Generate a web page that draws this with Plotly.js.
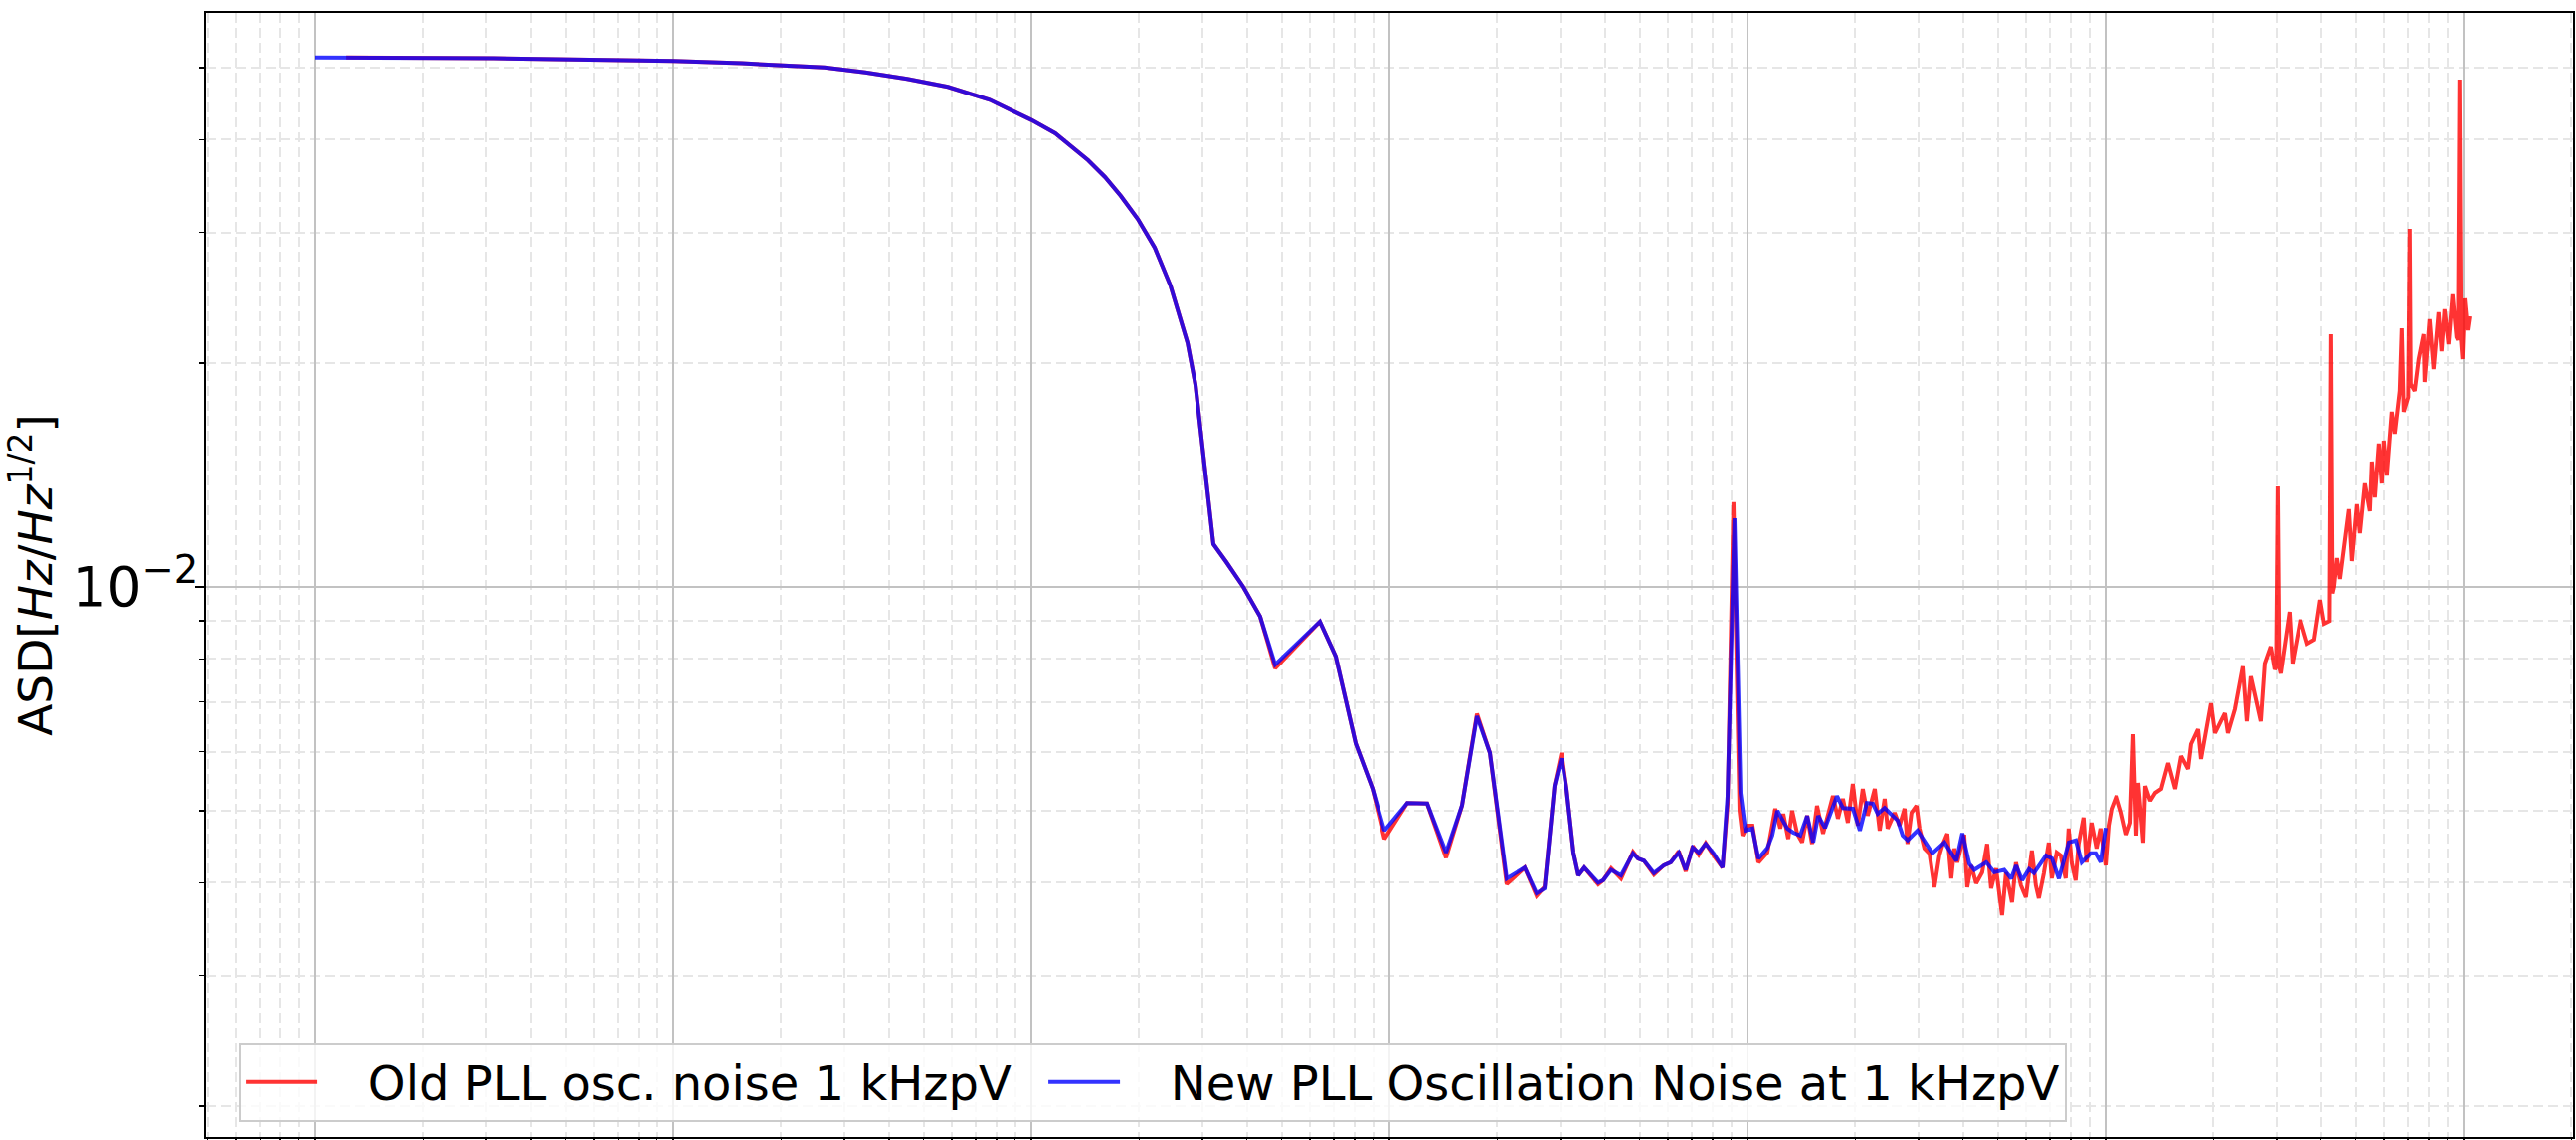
<!DOCTYPE html>
<html>
<head>
<meta charset="utf-8">
<script src="https://cdn.plot.ly/plotly-3.0.1.min.js"></script>
<style>
  html, body { margin: 0; padding: 0; background: #ffffff; }
  #chart { width: 2590px; height: 1146px; }
</style>
</head>
<body>
<div id="chart"></div>
<script>
// ---- Data (frequency in Hz, ASD in Hz/Hz^1/2) ----
const seriesNames = ["Old PLL osc. noise 1 kHzpV", "New PLL Oscillation Noise at 1 kHzpV"];

const newFreq = [0.01, 0.03162, 0.1, 0.1555, 0.2644, 0.3437, 0.4496, 0.5843, 0.7643, 1.0, 1.166, 1.300, 1.440, 1.606, 1.778, 1.982, 2.211, 2.448, 2.730, 2.873, 3.024, 3.122, 3.223, 3.503, 3.905, 4.353, 4.792, 6.391, 7.079, 8.046, 8.970, 9.685, 11.22, 12.75, 14.40, 15.95, 17.56, 19.08, 20.60, 21.27, 23.87, 25.77, 27.13, 28.91, 30.24, 31.22, 32.66, 33.71, 35.03, 36.64, 38.31, 39.56, 41.64, 44.38, 47.92, 49.49, 51.42, 54.82, 58.44, 61.10, 64.30, 67.25, 70.34, 73.10, 76.43, 80.44, 85.21, 87.99, 92.0, 95.63, 98.72, 103.2, 107.3, 113.6, 117.3, 121.2, 129.2, 134.2, 140.4, 146.8, 152.6, 157.5, 164.7, 177.8, 184.8, 197.0, 206.0, 215.4, 223.9, 231.1, 241.6, 262.7, 271.3, 280.1, 298.5, 328.6, 354.8, 383.1, 398.1, 416.3, 429.8, 464.2, 488.6, 521.0, 544.8, 562.3, 584.4, 611.1, 631.0, 681.3, 707.9, 740.3, 789.3, 825.5, 857.7, 908.4, 938.0, 968.5, 1000];
const newASD = [0.0516, 0.05145, 0.05102, 0.05066, 0.05001, 0.04925, 0.04827, 0.04709, 0.04524, 0.0425, 0.04078, 0.03912, 0.03752, 0.03561, 0.03358, 0.03128, 0.02861, 0.0254, 0.0213, 0.0187, 0.01493, 0.01284, 0.01142, 0.01080, 0.01000, 0.00912, 0.00786, 0.00898, 0.00806, 0.00616, 0.00535, 0.00470, 0.00512, 0.00511, 0.00439, 0.00508, 0.00670, 0.00598, 0.00449, 0.00405, 0.00419, 0.00387, 0.00393, 0.00540, 0.00588, 0.00535, 0.00439, 0.00409, 0.00419, 0.00409, 0.00400, 0.00403, 0.00416, 0.00409, 0.00438, 0.00431, 0.00428, 0.00412, 0.00422, 0.00426, 0.00439, 0.00416, 0.00446, 0.00439, 0.00451, 0.00438, 0.00419, 0.00523, 0.01237, 0.00528, 0.00470, 0.00473, 0.00431, 0.00445, 0.00463, 0.00500, 0.00473, 0.00467, 0.00463, 0.00492, 0.00453, 0.00492, 0.00474, 0.00523, 0.00504, 0.00503, 0.00470, 0.00512, 0.00511, 0.00495, 0.00504, 0.00485, 0.00463, 0.00456, 0.00470, 0.00438, 0.00453, 0.00428, 0.00466, 0.00424, 0.00416, 0.00426, 0.00413, 0.00416, 0.00405, 0.00422, 0.00403, 0.00417, 0.00412, 0.00435, 0.00431, 0.00405, 0.00453, 0.00456, 0.00426, 0.00438, 0.00438, 0.00426, 0.00474];

const oldFreq = [0.0122, 0.03162, 0.1, 0.1555, 0.2644, 0.3437, 0.4496, 0.5843, 0.7643, 1.0, 1.166, 1.300, 1.440, 1.606, 1.778, 1.982, 2.211, 2.448, 2.730, 2.873, 3.024, 3.122, 3.223, 3.503, 3.905, 4.353, 4.792, 6.391, 7.079, 8.046, 8.970, 9.685, 11.22, 12.75, 14.40, 15.95, 17.56, 19.08, 20.60, 21.27, 23.87, 25.77, 27.13, 28.91, 30.24, 31.22, 32.66, 33.71, 35.03, 36.64, 38.31, 39.56, 41.64, 44.38, 47.92, 49.49, 51.42, 54.82, 58.44, 61.10, 64.30, 67.25, 70.34, 73.10, 76.43, 80.44, 85.21, 87.99, 91.4, 95.0,
  96.85, 100.0, 103.25, 107.3, 113.6, 119.6, 123.5, 125.9, 130.0, 133.3, 137.7, 142.1, 146.8, 151.5, 156.4, 162.6, 170.0, 173.3, 178.9, 184.7, 190.7, 196.9, 203.3, 209.9, 216.7, 226.7, 234.0, 241.6, 246.3, 257.6, 265.9, 274.6, 279.9, 287.1, 296.5, 302.2, 312.0, 322.2, 332.6, 343.4, 350.1, 361.5, 370.8, 378.0, 385.3, 395.3, 403.0, 410.8, 421.4, 435.1, 452.1, 466.8, 478.9, 494.4, 504.0, 513.8, 527.1, 537.3, 547.7, 561.8, 580.1, 598.9, 618.4, 622.4, 638.5, 650.8, 672.0, 693.8, 707.2, 730.2, 749.1, 773.5, 788.4, 803.7, 824.5, 840.5, 867.8, 884.6, 913.3, 943.0, 967.4, 1000, 1019.4, 1039.1, 1072.8, 1107.7, 1143.7, 1173.3, 1196.0, 1219.2, 1234.9, 1275.0, 1291.4, 1333.4, 1376.6, 1430.5, 1495.9, 1564.4, 1625.6, 1700.0, 1733.0, 1812.2, 1847.4, 1969.2, 2020.2, 2153.6, 2195.3, 2295.8, 2416.3, 2478.8, 2543.0, 2711.0, 2781.1, 2889.9, 2964.7, 2993.0, 3022.1, 3051.0, 3080.7, 3263.1, 3326.3, 3500.8, 3661.1, 3828.6, 3978.4, 4081.3, 4228.0, 4268.2, 4309.0, 4350.7, 4435.0, 4520.9, 4788.6, 4881.4, 5039.9, 5137.5, 5304.3, 5476.7, 5547.2, 5654.5, 5801.0, 5913.4, 5989.3, 6105.3, 6303.7, 6425.7, 6634.4, 6719.9, 6806.2, 7005.0, 7072.5, 7117.9, 7302.1, 7491.3, 7734.5, 7784.2, 8037.0, 8245.1, 8513.1, 8678.0, 8845.8, 9075.1, 9309.9, 9551.2, 9643.0, 9736.2, 9830.0, 9924.5, 10064, 10259, 10391];
const oldASD = [0.0516, 0.05145, 0.05102, 0.05066, 0.05001, 0.04925, 0.04827, 0.04709, 0.04524, 0.0425, 0.04078, 0.03912, 0.03752, 0.03561, 0.03358, 0.03128, 0.02861, 0.0254, 0.0213, 0.0187, 0.01493, 0.01284, 0.01142, 0.01080, 0.01000, 0.00912, 0.00777, 0.00898, 0.00806, 0.00616, 0.00535, 0.00458, 0.00512, 0.00511, 0.00432, 0.00508, 0.00675, 0.00598, 0.00449, 0.00398, 0.00419, 0.00384, 0.00395, 0.00540, 0.00598, 0.00535, 0.00439, 0.00409, 0.00419, 0.00409, 0.00398, 0.00403, 0.00418, 0.00405, 0.00440, 0.00431, 0.00428, 0.00410, 0.00422, 0.00426, 0.00441, 0.00414, 0.00448, 0.00436, 0.00452, 0.00435, 0.00419, 0.00510, 0.01300, 0.00500,
  0.004627, 0.004772, 0.004772, 0.004257, 0.00439, 0.00503, 0.00473, 0.00495, 0.00458, 0.00500, 0.004655, 0.00453, 0.004922, 0.00451, 0.005076, 0.004655, 0.00503, 0.005235, 0.004877, 0.005187, 0.004816, 0.005431, 0.004772, 0.005348, 0.004922, 0.005348, 0.004699, 0.005187, 0.00473, 0.004967, 0.004772, 0.00503, 0.00451, 0.004967, 0.005076, 0.00473, 0.004446, 0.004377, 0.003942, 0.004351, 0.004487, 0.004655, 0.004053, 0.004446, 0.004257, 0.004446, 0.00464, 0.003942, 0.004219, 0.00399, 0.004128, 0.00451, 0.003929, 0.00418, 0.003846, 0.003616, 0.004128, 0.003929, 0.003763, 0.004257, 0.003966, 0.003822, 0.004311, 0.004418, 0.003966, 0.003811, 0.004115, 0.004527, 0.004053, 0.00439, 0.004351, 0.004053, 0.00473, 0.004257, 0.004028, 0.00451, 0.004892, 0.004257, 0.004816, 0.004446, 0.00473, 0.004219, 0.004772, 0.00503, 0.005235, 0.004967, 0.00464, 0.004816, 0.006337, 0.004627, 0.005449, 0.004527, 0.005398, 0.005154, 0.005283, 0.005348, 0.005795, 0.005348, 0.005921, 0.005689, 0.006145, 0.006435, 0.005867, 0.006972, 0.006357, 0.006761, 0.006357, 0.006845, 0.007815, 0.006596, 0.007577, 0.006596, 0.007887, 0.008312, 0.007743, 0.0078, 0.013653, 0.0078, 0.007648, 0.009258, 0.007887, 0.009033, 0.008389, 0.008493, 0.009607, 0.008922, 0.0090, 0.021878, 0.0098, 0.0100, 0.010935, 0.01025, 0.012718, 0.010834, 0.012915, 0.011811, 0.013779, 0.01264, 0.014746, 0.013197, 0.015587, 0.013779, 0.015732, 0.014123, 0.017202, 0.016075, 0.018353, 0.022287, 0.017202, 0.0180, 0.030333, 0.018753, 0.018353, 0.020256, 0.021878, 0.018869, 0.022914, 0.019642, 0.023414, 0.020762, 0.023632, 0.021215, 0.024749, 0.021677, 0.0215, 0.048165, 0.0215, 0.020256, 0.024447, 0.022151, 0.023127];

const FONT = "DejaVu Sans, Liberation Sans, sans-serif";
const LEGEND_PAD = "\u00a0\u00a0\u00a0"; // gap between legend line and its text, as in the reference

const traces = [
  { x: oldFreq, y: oldASD, name: LEGEND_PAD + seriesNames[0], type: "scatter", mode: "lines",
    legendwidth: 720,
    line: { color: "rgba(255,0,0,0.8)", width: 4 } },
  { x: newFreq, y: newASD, name: LEGEND_PAD + seriesNames[1], type: "scatter", mode: "lines",
    line: { color: "rgba(0,0,255,0.8)", width: 4 } }
];

const layout = {
  width: 2590, height: 1146,
  margin: { l: 207, r: 3, t: 13, b: 3, pad: 0 },
  paper_bgcolor: "#ffffff", plot_bgcolor: "#ffffff",
  font: { family: FONT, size: 48, color: "#000000" },
  showlegend: true,
  xaxis: {
    type: "log", range: [-2.3056, 4.3056], autorange: false,
    tickmode: "linear", tick0: 0, dtick: 1,
    showline: true, linecolor: "#000000", linewidth: 2, mirror: true,
    showgrid: true, gridcolor: "#c2c2c2", gridwidth: 2,
    zeroline: false, ticks: "outside", ticklen: 9, tickwidth: 2, tickcolor: "#000000",
    showticklabels: false, automargin: false,
    minor: { dtick: "D1", showgrid: true, gridcolor: "#e6e6e6", gridwidth: 2, griddash: "10px,5px",
             ticks: "outside", ticklen: 5, tickwidth: 1.5, tickcolor: "#000000" }
  },
  yaxis: {
    type: "log", range: [-2.7403, -1.2276], autorange: false,
    tickmode: "linear", tick0: 0, dtick: 1, exponentformat: "power",
    showline: true, linecolor: "#000000", linewidth: 2, mirror: true,
    showgrid: true, gridcolor: "#c2c2c2", gridwidth: 2.5,
    zeroline: false, ticks: "outside", ticklen: 9, tickwidth: 2, tickcolor: "#000000",
    tickfont: { family: FONT, size: 44, color: "#000000" },
    ticklabelstandoff: -12,
    automargin: false,
    minor: { dtick: "D1", showgrid: true, gridcolor: "#e6e6e6", gridwidth: 2, griddash: "10px,5px",
             ticks: "outside", ticklen: 5, tickwidth: 1.5, tickcolor: "#000000" },
    title: { text: "ASD[<i>Hz</i>/<i>Hz</i><sup>1/2</sup>]", font: { family: FONT, size: 47, color: "#000000" }, standoff: 5 }
  },
  legend: {
    orientation: "h", x: 0.0139, y: 0.0133, xanchor: "left", yanchor: "bottom",
    font: { family: FONT, size: 48, color: "#000000" },
    bgcolor: "rgba(255,255,255,0.8)", bordercolor: "#cccccc", borderwidth: 2,
    itemwidth: 72
  }
};

Plotly.newPlot("chart", traces, layout, { displayModeBar: false, staticPlot: true });
</script>
</body>
</html>
